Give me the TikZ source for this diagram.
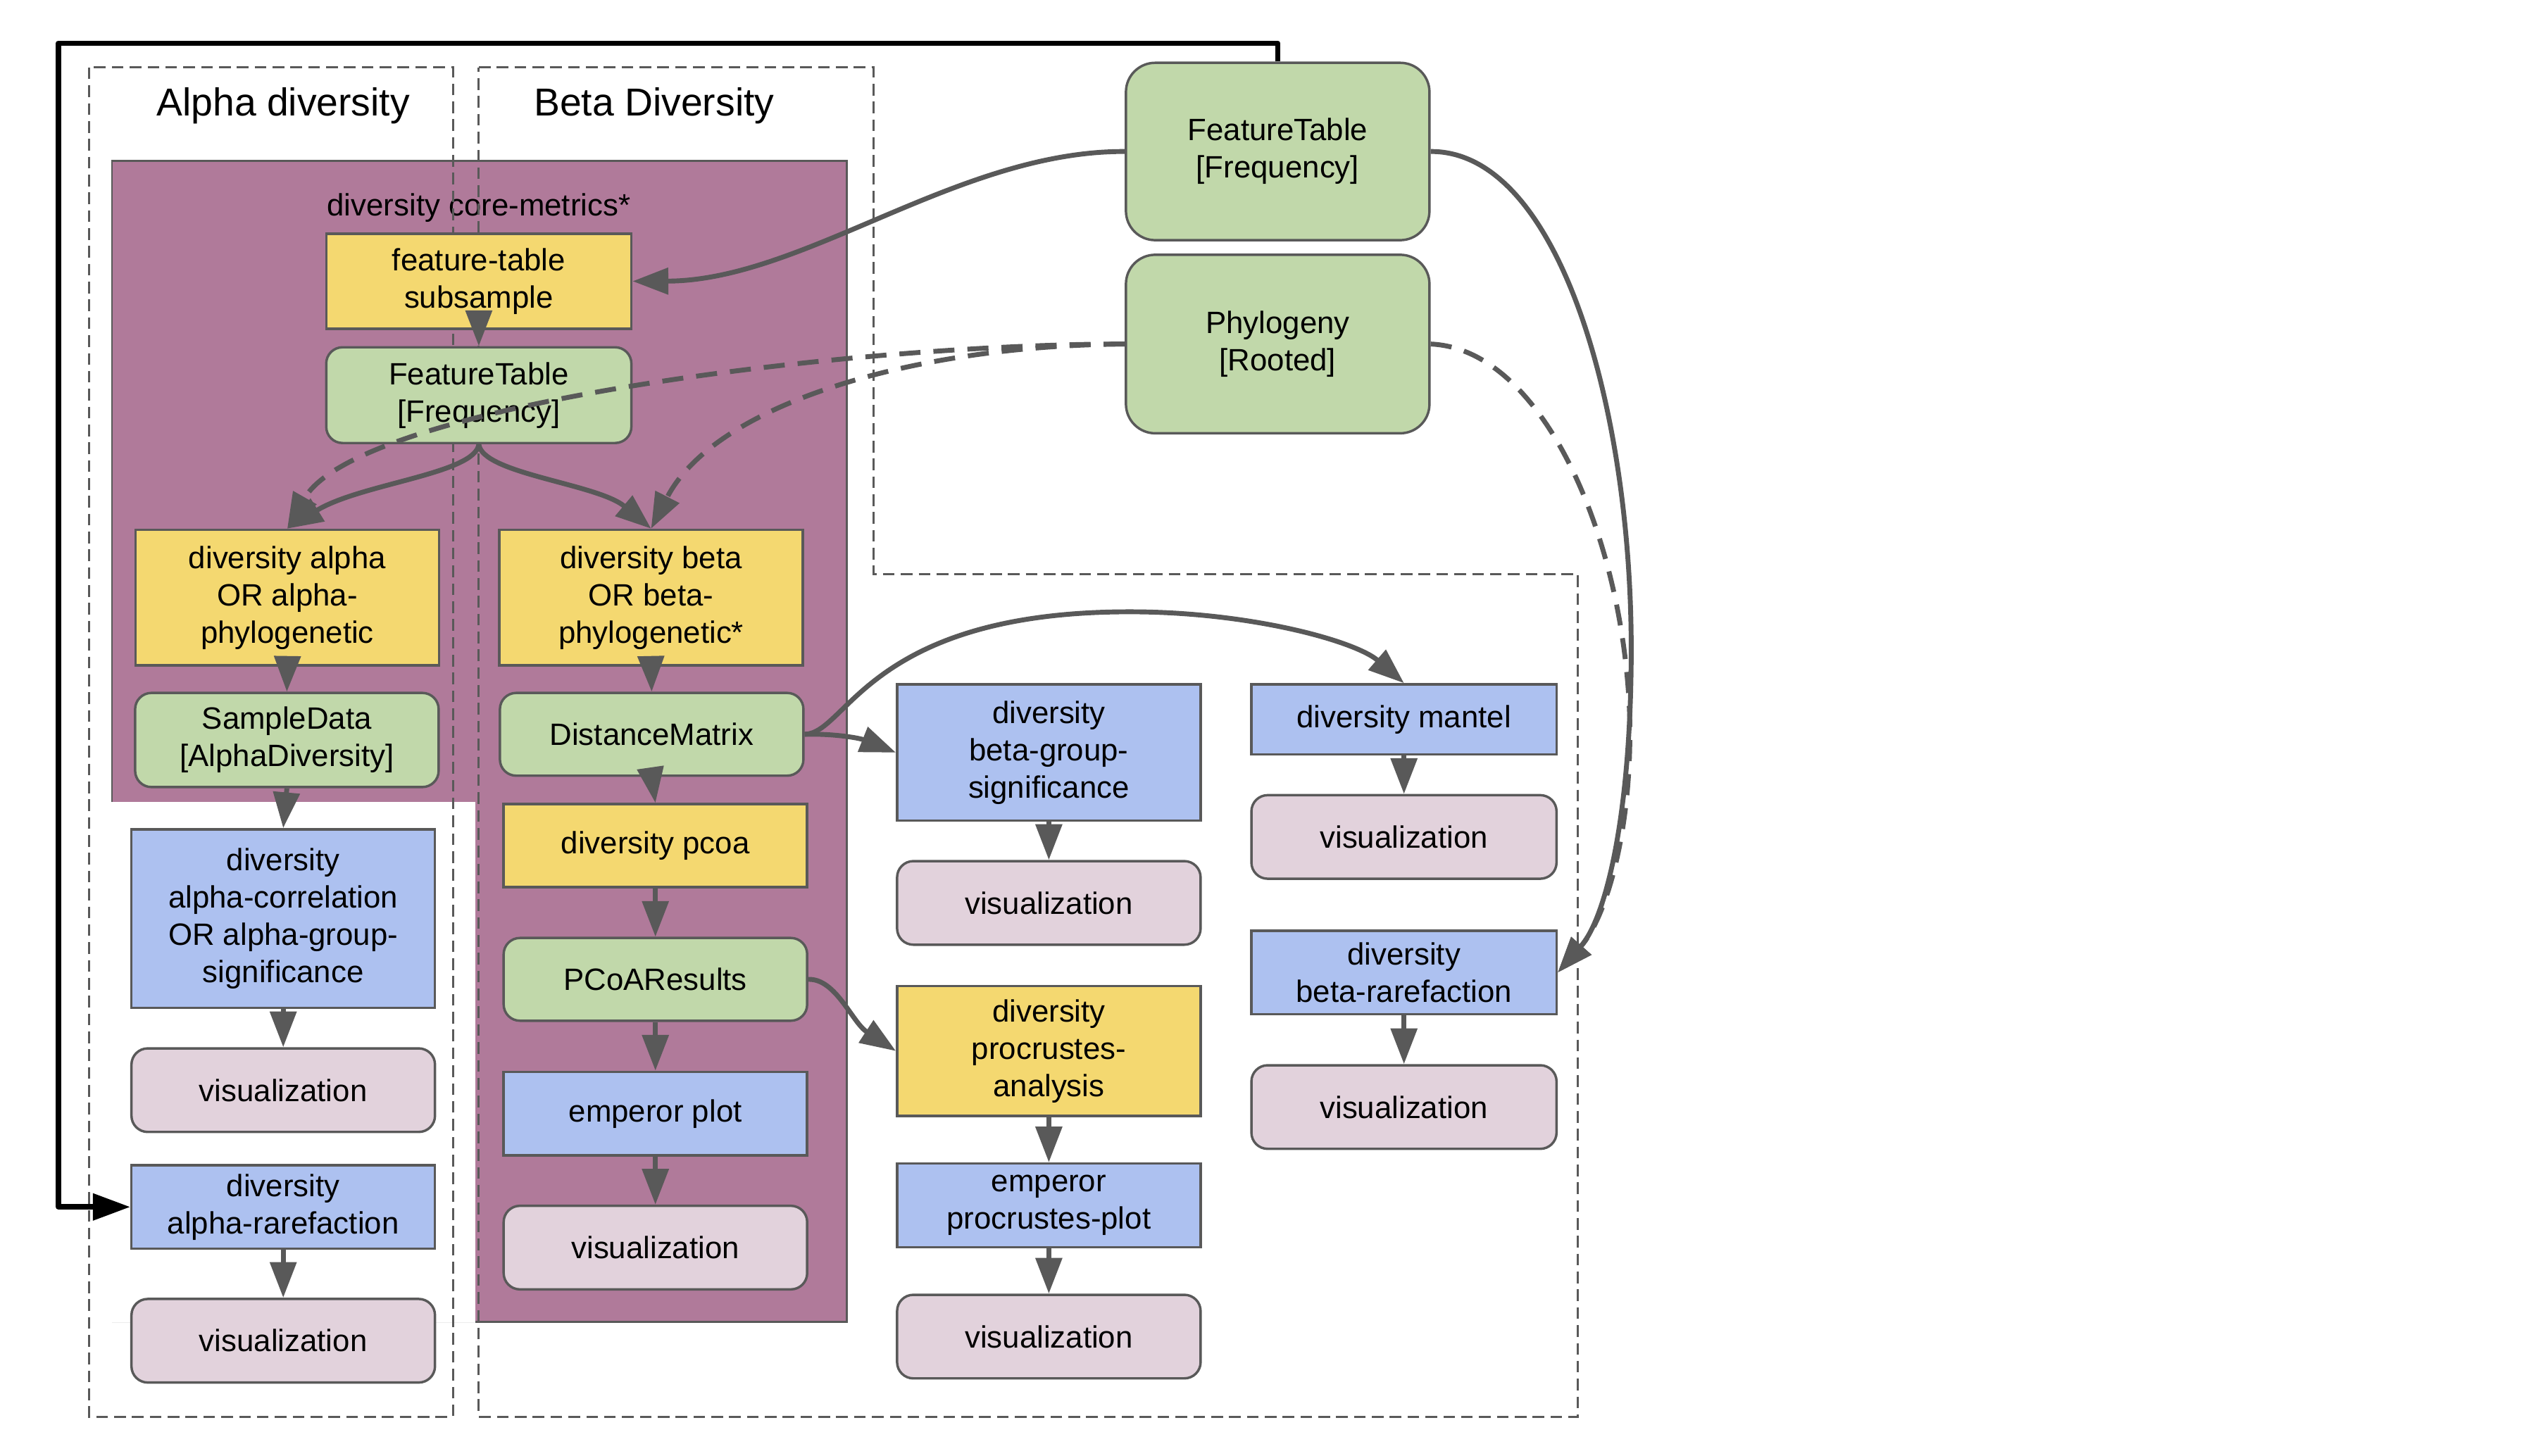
\documentclass[tikz,border=0pt]{standalone}
\usepackage{fontspec}
\setmainfont{Liberation Sans}
\usetikzlibrary{arrows.meta}

\definecolor{edge}{HTML}{595959}
\definecolor{actionfill}{HTML}{F4D870}
\definecolor{datafill}{HTML}{C1D8AA}
\definecolor{plotfill}{HTML}{ADC1F0}
\definecolor{vizfill}{HTML}{E2D2DC}
\definecolor{corefill}{HTML}{B07A9A}

\tikzset{
  base/.style={draw=edge, line width=1.5pt, inner sep=0pt, align=center,
    font=\fontsize{19}{23}\selectfont, minimum width=187pt},
  action/.style={base, fill=actionfill},
  plotbox/.style={base, fill=plotfill},
  artifact/.style={base, fill=datafill, rounded corners=10pt},
  input/.style={base, fill=datafill, rounded corners=18pt},
  viz/.style={base, fill=vizfill, rounded corners=10pt, minimum height=51.5pt},
  conn/.style={draw=edge, line width=3pt, -{Triangle[length=22pt,width=16pt]}},
  dconn/.style={conn, dash pattern=on 13pt off 8pt},
  group/.style={draw=edge, line width=1.3pt, dash pattern=on 7.2pt off 3.8pt},
  title/.style={font=\fontsize{24}{28}\selectfont},
}

\begin{document}
\begin{tikzpicture}[x=1pt, y=-1pt]
\useasboundingbox (0,0) rectangle (1568,897);

% core-metrics pipeline background
\fill[corefill, draw=edge, line width=1.2pt] (69,99) rectangle (521.6,814.5);
\fill[white] (67,494) rectangle (293,816);
\draw[gray!15, line width=0.6pt] (69,815) -- (293,815);
\node[font=\fontsize{19}{23}\selectfont] (core) at (295,128) {diversity core-metrics*};

% dashed groups
\draw[group] (54.7,41.6) rectangle (279,873);
\draw[group] (295,41.6) -- (538,41.6) -- (538,353.6) -- (972,353.6) -- (972,873) -- (295,873) -- cycle;
\node[title] (alphaT) at (174.5,65) {Alpha diversity};
\node[title] (betaT) at (403,65) {Beta Diversity};

% inputs
\node[input, minimum height=109.3pt] (ft) at (787.2,93.35) {FeatureTable\\{[}Frequency{]}};
\node[input, minimum height=110pt] (ph) at (787.2,212) {Phylogeny\\{[}Rooted{]}};

% core-metrics
\node[action, minimum width=188pt, minimum height=58.6pt] (fts) at (295,173.3) {feature-table\\subsample};
\node[artifact, minimum width=188pt, minimum height=59pt] (ft2) at (295,243.5) {FeatureTable\\{[}Frequency{]}};
\node[action, minimum height=83.5pt] (da) at (177,368.25) {diversity alpha\\OR alpha-\\phylogenetic};
\node[action, minimum height=83.5pt] (db) at (401.15,368.25) {diversity beta\\OR beta-\\phylogenetic*};
\node[artifact, minimum height=58pt] (sd) at (176.75,456) {SampleData\\{[}AlphaDiversity{]}};
\node[artifact, minimum height=51pt] (dm) at (401.5,452.5) {DistanceMatrix};
\node[action, minimum height=51.2pt] (dp) at (403.8,521.1) {diversity pcoa};
\node[artifact, minimum height=51pt] (pc) at (403.8,603.5) {PCoAResults};
\node[plotbox, minimum height=51.5pt] (ep) at (403.8,686.25) {emperor plot};
\node[viz] (v3) at (403.8,768.8) {visualization};

% alpha column
\node[plotbox, minimum height=110pt] (ac) at (174.5,566) {diversity\\alpha-correlation\\OR alpha-group-\\significance};
\node[viz] (v1) at (174.5,671.8) {visualization};
\node[plotbox, minimum height=51.5pt] (ar) at (174.5,743.75) {diversity\\alpha-rarefaction};
\node[viz] (v2) at (174.5,826.2) {visualization};

% beta columns
\node[plotbox, minimum height=84pt] (bg) at (646.2,463.75) {diversity\\beta-group-\\significance};
\node[viz] (v4) at (646.2,556.4) {visualization};
\node[action, minimum height=80pt] (pa) at (646.2,647.65) {diversity\\procrustes-\\analysis};
\node[plotbox, minimum height=51.6pt] (pp) at (646.2,742.8) {emperor\\procrustes-plot};
\node[viz] (v5) at (646.2,823.65) {visualization};
\node[plotbox, minimum width=188pt, minimum height=43.3pt] (mt) at (865,443.35) {diversity mantel};
\node[viz, minimum width=188pt] (v6) at (865,515.75) {visualization};
\node[plotbox, minimum width=188pt, minimum height=51.4pt] (br) at (865,599.3) {diversity\\beta-rarefaction};
\node[viz, minimum width=188pt] (v7) at (865,682.2) {visualization};

% way points of the long connectors
\coordinate (mantelTop) at (696,377);
\coordinate (ftBend) at (1005,400);
\coordinate (phBend) at (1004,440);
\coordinate (loopA) at (787.2,26.6);
\coordinate (loopB) at (36,26.6);
\coordinate (loopC) at (36,743.75);

% straight steps
\foreach \a/\b in {fts/ft2, da/sd, db/dm, sd/ac, ac/v1, ar/v2, dm/dp, dp/pc, pc/ep, ep/v3,
                   bg/v4, pa/pp, pp/v5, mt/v6, br/v7}
  \draw[conn] (\a.south) -- (\b.north);

% curved connectors
\draw[conn] (ft.west) .. controls (590,93) and (495,173) .. (fts.east);
\draw[dconn] (ph.west) .. controls (520,212) and (220,250) .. (da.north);
\draw[dconn] (ph.west) .. controls (560,213) and (440,250) .. (db.north);
\draw[conn] (ft2.south) .. controls (293,292) and (222,298) .. (da.north);
\draw[conn] (ft2.south) .. controls (297,292) and (368,298) .. (db.north);
\draw[conn] (dm.east) .. controls (515,452) and (530,455) .. (bg.west);
\draw[conn] (dm.east) .. controls (522,452) and (535,377) .. (mantelTop)
            .. controls (770,377) and (835,395) .. (mt.north);
\draw[conn] (pc.east) .. controls (515,603) and (525,630) .. (pa.west);
\draw[conn] (ft.east) .. controls (960,93) and (1005,250) .. (ftBend)
            .. controls (1005,500) and (990,565) .. (br.east);
\draw[dconn] (ph.east) .. controls (950,215) and (1000,330) .. (phBend)
            .. controls (1006,510) and (990,565) .. (br.east);

% rarefaction loop
\draw[black, line width=3.3pt, line join=round, -{Triangle[length=23pt,width=16pt]}]
  (ft.north) -- (loopA) -- (loopB) -- (loopC) -- (ar.west);
\end{tikzpicture}
\end{document}
